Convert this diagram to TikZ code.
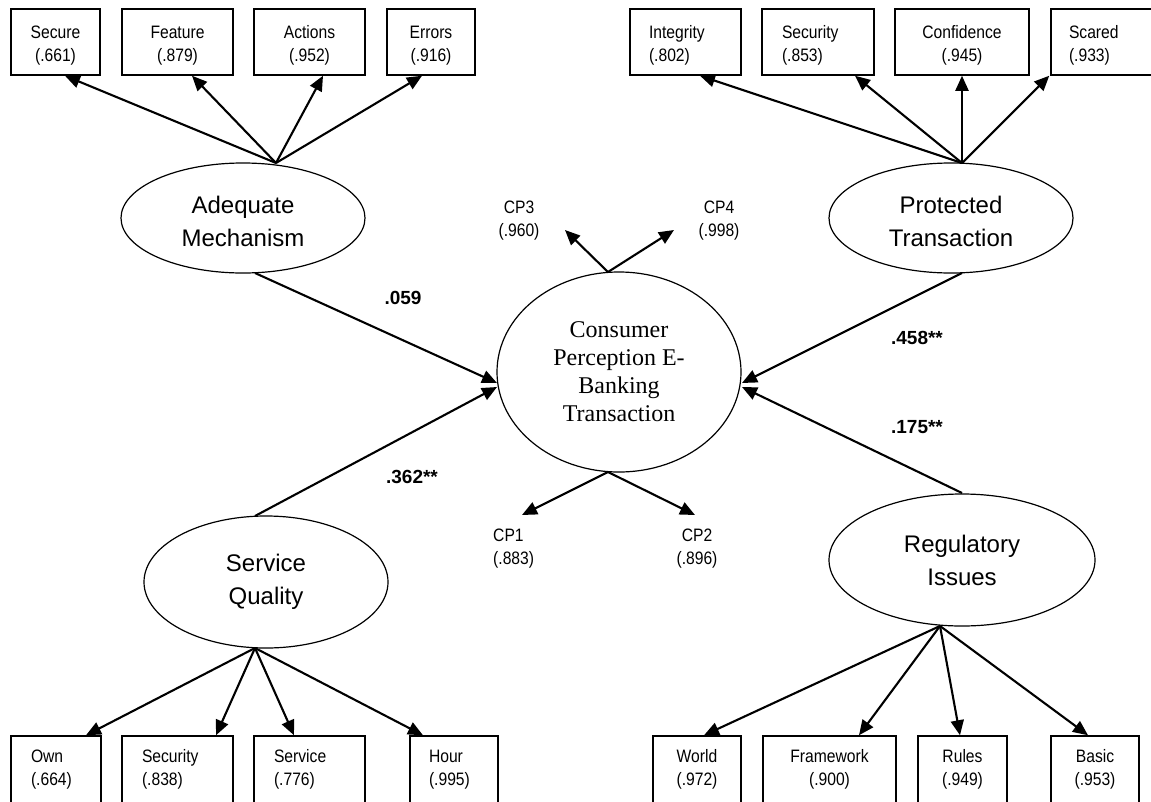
\documentclass[tikz,border=0pt]{standalone}
\usepackage{fontspec}
\setmainfont{Liberation Sans}
\newfontfamily\narrowsf[FakeStretch=0.87]{Liberation Sans}
\newfontfamily\serifcp{Liberation Serif}
\usetikzlibrary{arrows.meta,shapes.geometric,calc}
\newcommand{\tb}{\rule{0pt}{20pt}}
\begin{document}
\begin{tikzpicture}[x=1pt,y=-1pt,
  box/.style={draw,line width=1.5pt,inner sep=0pt,minimum height=66pt,
    font=\narrowsf\fontsize{18}{23}\selectfont,align=center},
  lbox/.style={box,align=left},
  lat/.style={draw,line width=1.2pt,ellipse,inner sep=0pt,
    font=\fontsize{24}{33}\selectfont,align=center},
  arr/.style={line width=2.1pt,-{Triangle[length=15pt,width=13pt]}},
  coef/.style={font=\bfseries\fontsize{19}{22}\selectfont,inner sep=0pt},
  cplab/.style={font=\narrowsf\fontsize{18}{23}\selectfont,align=center,inner sep=0pt}]

\useasboundingbox (0,0) rectangle (1151,801);
\clip (0,0) rectangle (1151,801);
\fill[white] (0,0) rectangle (1151,801);

% ---------- latent variables ----------
\node[lat,minimum width=244pt,minimum height=110pt] (am) at (243,218) {\rule{0pt}{24pt}Adequate\\Mechanism};
\node[lat,minimum width=244pt,minimum height=110pt] (pt) at (951,218) {\rule{0pt}{24pt}Protected\\Transaction};
\node[lat,minimum width=244pt,minimum height=132pt] (sq) at (266,582) {Service\\Quality};
\node[lat,minimum width=266pt,minimum height=132pt] (ri) at (962,560) {Regulatory\\Issues};
\node[lat,minimum width=244pt,minimum height=200pt,font=\serifcp\fontsize{24}{28}\selectfont] (cp) at (619,372)
  {Consumer\\Perception E-\\Banking\\Transaction};

% ---------- top-left indicators ----------
\node[box,minimum width=89pt]  (sec) at (55.5,42)  {\tb Secure\\(.661)};
\node[box,minimum width=111pt] (fea) at (177.5,42) {\tb Feature\\(.879)};
\node[box,minimum width=111pt] (act) at (309.5,42) {\tb Actions\\(.952)};
\node[box,minimum width=88pt]  (err) at (431,42)   {\tb Errors\\(.916)};

% ---------- top-right indicators ----------
\node[lbox,minimum width=111pt,text width=73pt] (int) at (685.5,42) {\tb Integrity\\(.802)};
\node[lbox,minimum width=112pt,text width=72pt] (sc1) at (818,42)   {\tb Security\\(.853)};
\node[box,minimum width=134pt]                  (con) at (962,42)   {\tb Confidence\\(.945)};
\node[lbox,minimum width=114pt,text width=78pt] (sca) at (1108,42)  {\tb Scared\\(.933)};

% ---------- bottom-left indicators ----------
\node[lbox,minimum width=90pt,minimum height=67pt,text width=50pt]  (own) at (56,769.5)    {Own\\(.664)};
\node[lbox,minimum width=111pt,minimum height=67pt,text width=71pt] (sc2) at (177.5,769.5) {Security\\(.838)};
\node[lbox,minimum width=111pt,minimum height=67pt,text width=71pt] (ser) at (309.5,769.5) {Service\\(.776)};
\node[lbox,minimum width=88pt,minimum height=67pt,text width=50pt]  (hou) at (454,769.5)   {Hour\\(.995)};

% ---------- bottom-right indicators ----------
\node[box,minimum width=88pt,minimum height=67pt]  (wor) at (697,769.5)   {World\\(.972)};
\node[box,minimum width=133pt,minimum height=67pt] (fra) at (829.5,769.5) {Framework\\(.900)};
\node[box,minimum width=89pt,minimum height=67pt]  (rul) at (962.5,769.5) {Rules\\(.949)};
\node[box,minimum width=88pt,minimum height=67pt]  (bas) at (1095,769.5)  {Basic\\(.953)};

% ---------- connection points ----------
\coordinate (amTop) at (276,163);
\coordinate (amBot) at (255,273);
\coordinate (ptTop) at (962,163);
\coordinate (ptBot) at (962,273);
\coordinate (sqTop) at (255,516);
\coordinate (sqBot) at (255,648);
\coordinate (riTop) at (962,493);
\coordinate (riBot) at (940,626);
\coordinate (cpTop) at (608,272);
\coordinate (cpBot) at (608,472);
\coordinate (cpL1) at (497,383);
\coordinate (cpL2) at (497,387);
\coordinate (cpR1) at (742,383);
\coordinate (cpR2) at (742,387);
\coordinate (t3) at (565,230);
\coordinate (t4) at (674,230);
\coordinate (t1) at (522,515);
\coordinate (t2) at (695,515);

% ---------- CP indicator labels ----------
\node[cplab] (cp3) at (519,221) {CP3\\(.960)};
\node[cplab] (cp4) at (719,221) {CP4\\(.998)};
\node[cplab,align=left,anchor=west] (cp1) at (493,549) {CP1\\(.883)};
\node[cplab] (cp2) at (697,549) {CP2\\(.896)};

% ---------- loadings ----------
\draw[arr] (amTop) -- ([xshift=9.5pt]sec.south);
\draw[arr] (amTop) -- ([xshift=14.5pt]fea.south);
\draw[arr] (amTop) -- ([xshift=13.5pt]act.south);
\draw[arr] (amTop) -- ([xshift=-9pt]err.south);

\draw[arr] (ptTop) -- ([xshift=14.5pt]int.south);
\draw[arr] (ptTop) -- ([xshift=37pt]sc1.south);
\draw[arr] (ptTop) -- (con.south);
\draw[arr] (ptTop) -- ([xshift=-1pt]sca.south west);

\draw[arr] (sqBot) -- ([xshift=30pt]own.north);
\draw[arr] (sqBot) -- ([xshift=38.5pt]sc2.north);
\draw[arr] (sqBot) -- ([xshift=-15.5pt]ser.north);
\draw[arr] (sqBot) -- ([xshift=-31pt]hou.north);

\draw[arr] (riBot) -- ([xshift=7pt]wor.north);
\draw[arr] (riBot) -- ([xshift=29.5pt]fra.north);
\draw[arr] (riBot) -- ([xshift=-2.5pt]rul.north);
\draw[arr] (riBot) -- ([xshift=-7pt]bas.north);

\draw[arr] (cpTop) -- (t3);
\draw[arr] (cpTop) -- (t4);
\draw[arr] (cpBot) -- (t1);
\draw[arr] (cpBot) -- (t2);

% ---------- structural paths ----------
\draw[arr] (amBot) -- (cpL1);
\draw[arr] (sqTop) -- (cpL2);
\draw[arr] (ptBot) -- (cpR1);
\draw[arr] (riTop) -- (cpR2);

\node[coef] (c1) at (403,298) {.059};
\node[coef] (c2) at (412,477) {.362**};
\node[coef] (c3) at (917,338) {.458**};
\node[coef] (c4) at (917,427) {.175**};
\end{tikzpicture}
\end{document}
